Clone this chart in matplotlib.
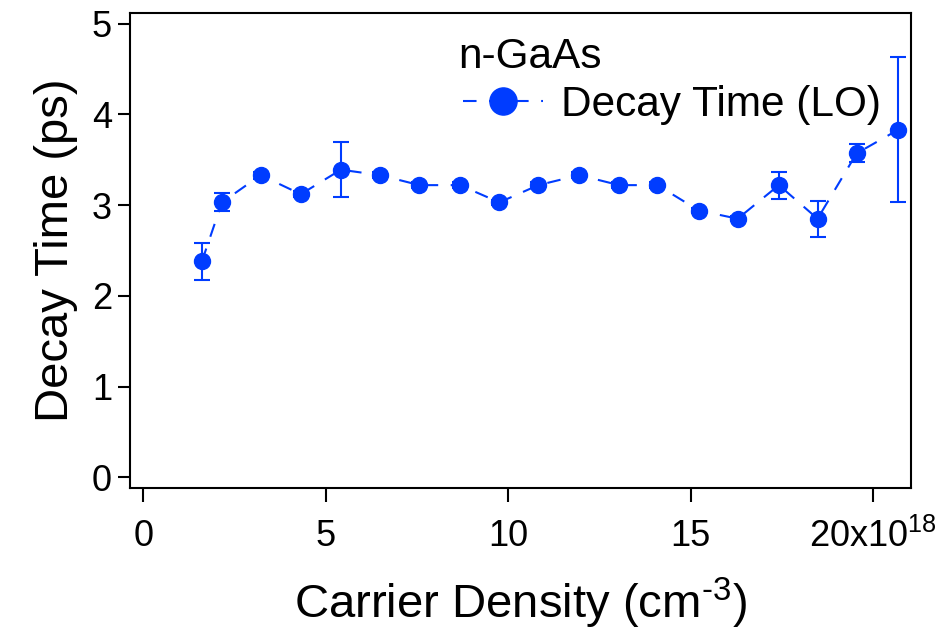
import matplotlib
matplotlib.use("Agg")
import matplotlib.pyplot as plt

# carrier density (x10^18 cm^-3) vs LO decay time (ps)
density = [1.61, 2.16, 3.22, 4.32, 5.42, 6.49, 7.57, 8.68, 9.76, 10.83,
           11.95, 13.04, 14.09, 15.23, 16.29, 17.42, 18.48, 19.55, 20.69]
decay = [2.38, 3.03, 3.33, 3.12, 3.39, 3.33, 3.22, 3.22, 3.03, 3.22,
         3.33, 3.22, 3.22, 2.94, 2.85, 3.22, 2.85, 3.57, 3.83]
decay_err = [0.20, 0.10, 0.04, 0.03, 0.30, 0.03, 0.03, 0.03, 0.03, 0.03,
             0.03, 0.03, 0.03, 0.03, 0.03, 0.15, 0.20, 0.10, 0.80]

xticks = [0, 5, 10, 15, 20]
xtick_labels = ["0", "5", "10", "15", "20x10$^{\\text{18}}$"]
yticks = [0, 1, 2, 3, 4, 5]

blue = "#003CFF"

plt.rcParams["font.family"] = ["Liberation Sans", "DejaVu Sans"]
plt.rcParams["mathtext.fontset"] = "custom"
plt.rcParams["mathtext.rm"] = "Liberation Sans"
plt.rcParams["mathtext.it"] = "Liberation Sans:italic"
plt.rcParams["mathtext.default"] = "regular"

fig = plt.figure(figsize=(9.38, 6.35), dpi=100)
ax = fig.add_axes([130 / 938, (635 - 488) / 635, 781 / 938, 475 / 635])

ax.errorbar(density, decay, yerr=decay_err, fmt="none", ecolor=blue,
            elinewidth=1.5, capsize=6, capthick=1.5)
ax.plot(density, decay, color=blue, lw=1.5, ls=(0, (6.5, 6)),
        marker="o", ms=11.5, label="Decay Time (LO)")

ax.set_xlim(-0.36, 21.04)
ax.set_ylim(-0.116, 5.116)
ax.set_xticks(xticks)
ax.set_xticklabels(xtick_labels)
ax.set_yticks(yticks)

for s in ax.spines.values():
    s.set_linewidth(1.5)
ax.tick_params(axis="x", direction="out", length=10, width=1.5, pad=12, labelsize=26)
ax.tick_params(axis="y", direction="out", length=9, width=1.5, pad=4, labelsize=26)

ax.set_xlabel("Carrier Density (cm$^{\\text{-3}}$)", fontsize=34, labelpad=15)
ax.set_ylabel("Decay Time (ps)", fontsize=34, labelpad=10)

fig.text(458 / 938, 1 - 68 / 635, "n-GaAs", fontsize=30.5, va="baseline")
ax.legend(loc="upper left", bbox_to_anchor=(463 / 938, 1 - 85 / 635),
          bbox_transform=fig.transFigure, frameon=False, fontsize=30.5,
          markerscale=1.7, handlelength=1.9, handletextpad=0.42,
          borderpad=0, borderaxespad=0)

fig.savefig("out.png", dpi=100)
